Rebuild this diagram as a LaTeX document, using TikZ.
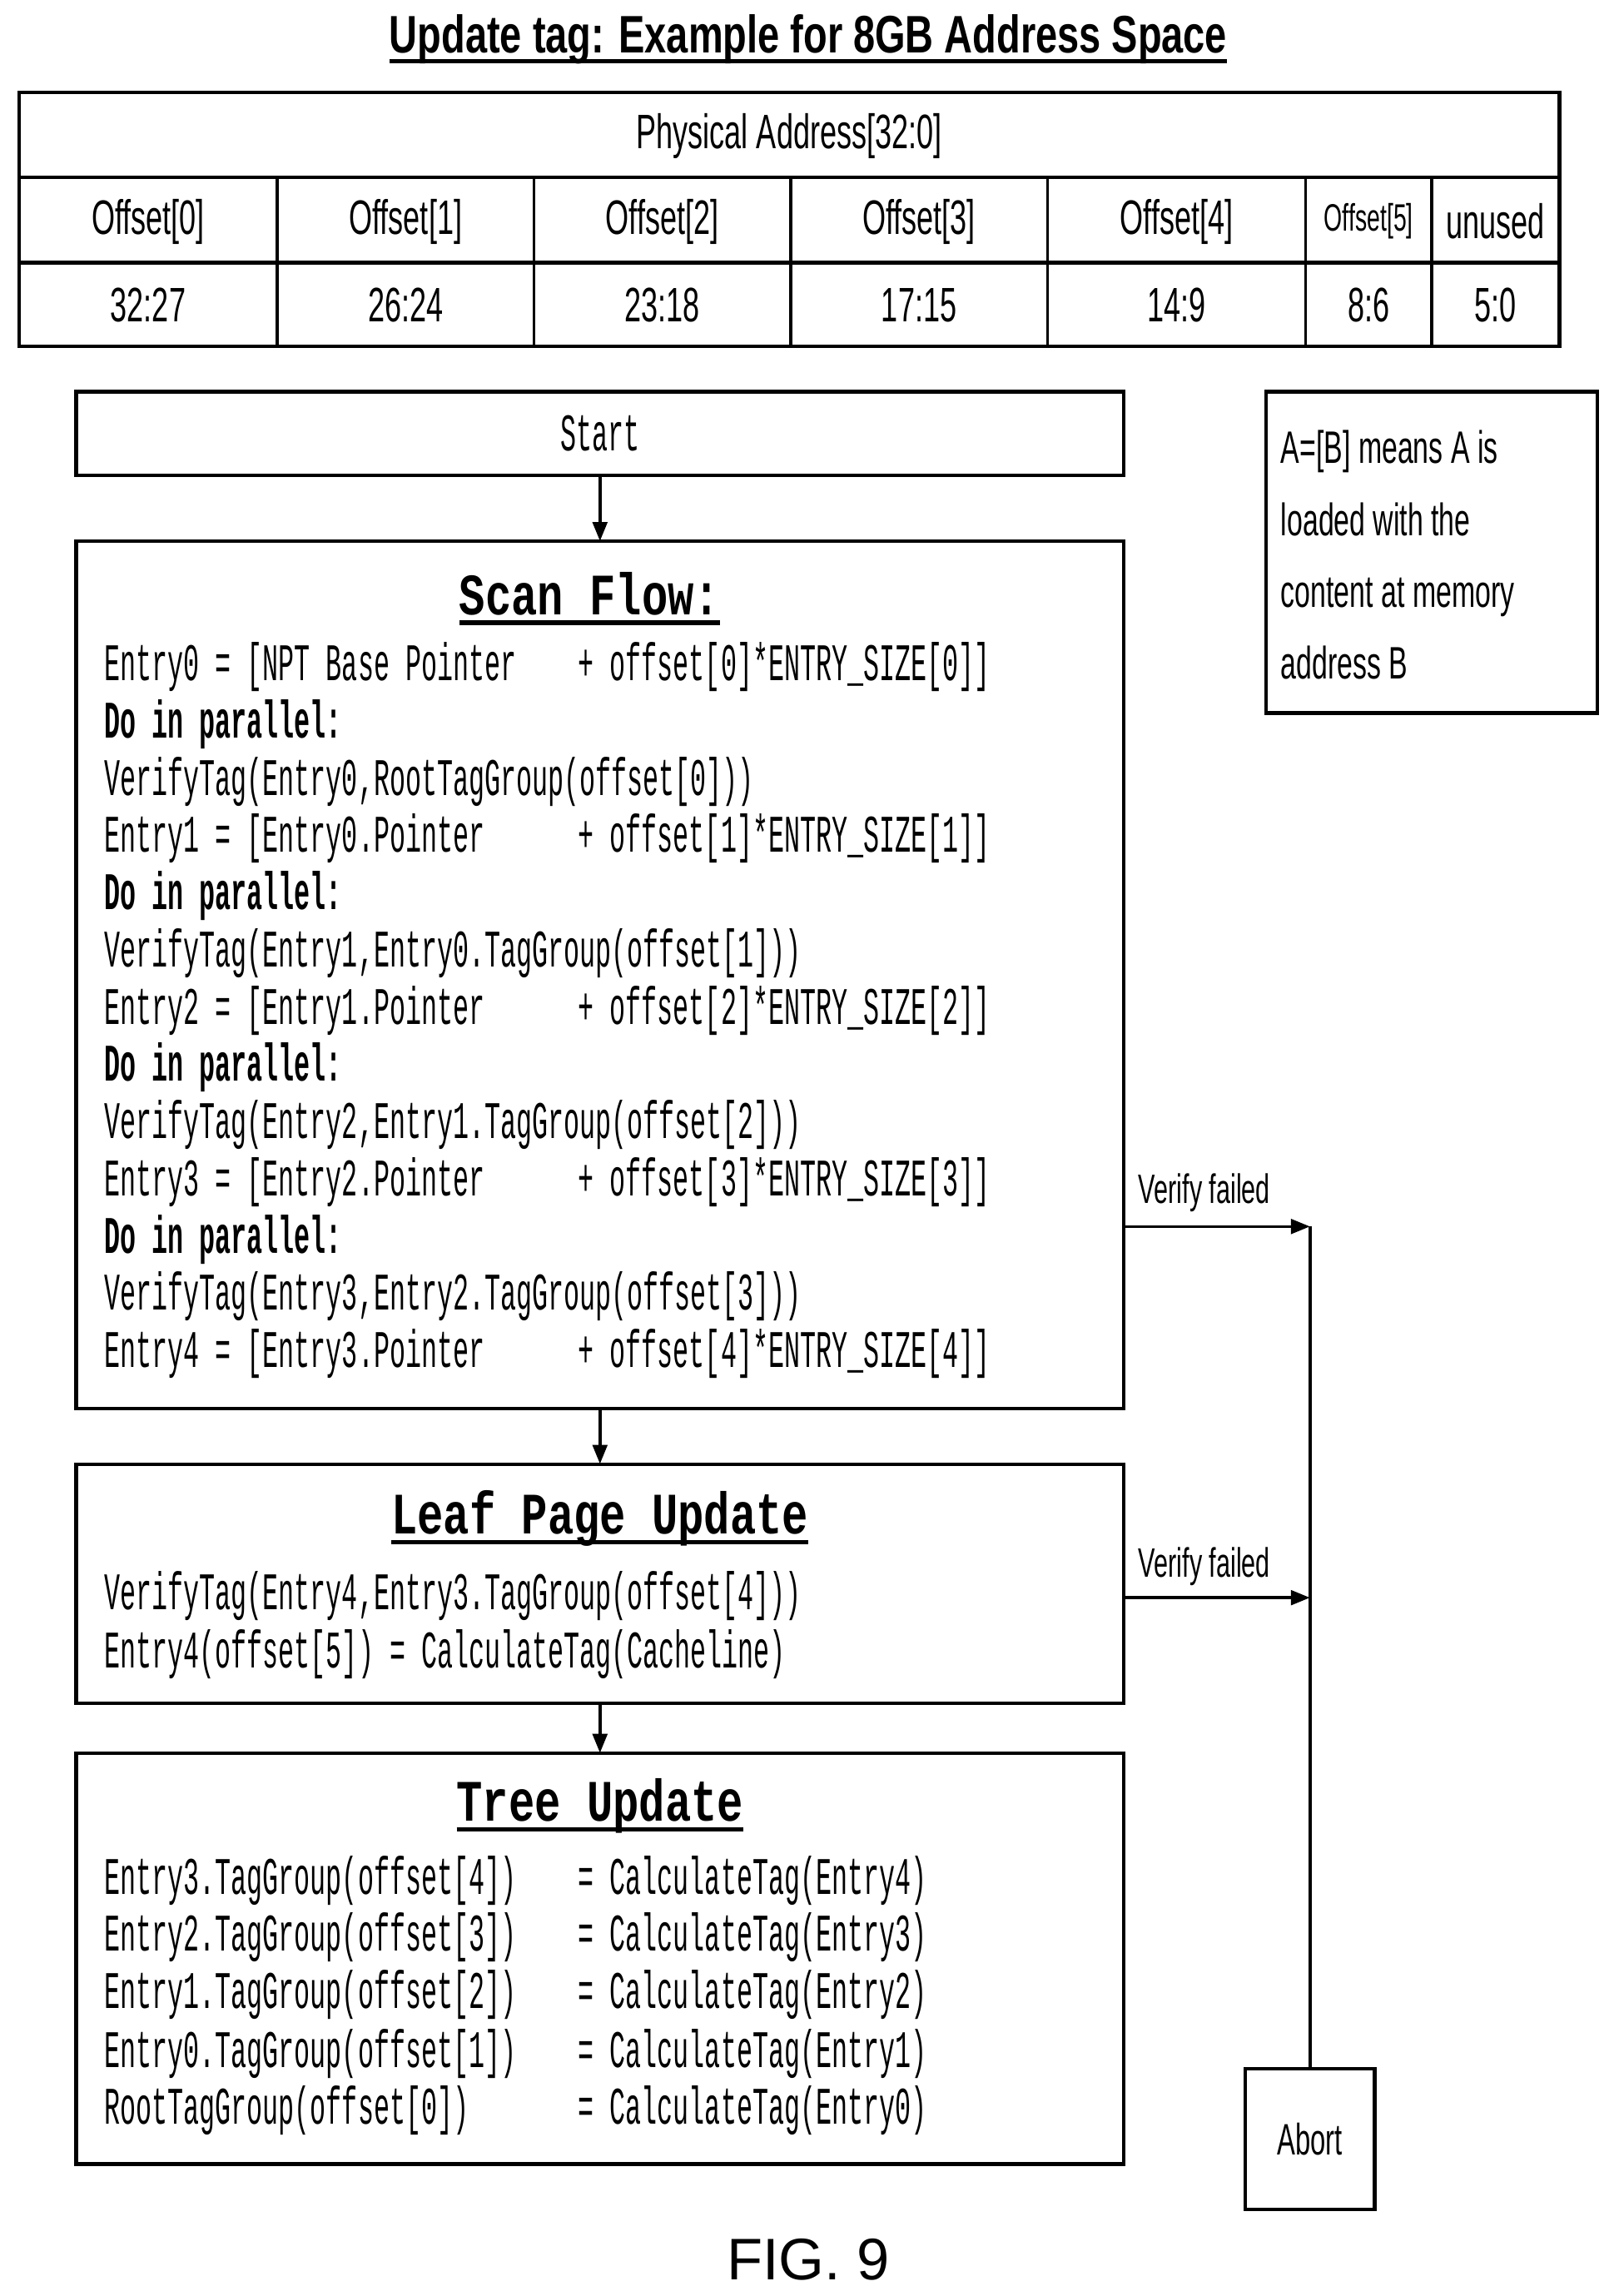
\documentclass[tikz,border=0pt]{standalone}
\usepackage{fontspec}
\setmainfont{Liberation Sans}
\newfontfamily\narrowsans[FakeStretch=0.62]{Liberation Sans}
\newfontfamily\titlesans[FakeStretch=0.74]{Liberation Sans}
\newfontfamily\narrowmono[FakeStretch=0.5]{Liberation Mono}
\newfontfamily\headmono[FakeStretch=0.74]{Liberation Mono}
\usetikzlibrary{positioning,arrows.meta,calc}
\tikzset{
  box/.style={draw,line width=2.5pt},
  cell/.style={font=\narrowsans\fontsize{33}{33}\selectfont},
  code/.style={anchor=base west,inner sep=0pt,font=\narrowmono\fontsize{36}{36}\selectfont},
  codehead/.style={inner sep=0pt,font=\headmono\bfseries\fontsize{40}{40}\selectfont},
  note/.style={anchor=base west,inner sep=0pt,font=\narrowsans\fontsize{31}{31}\selectfont},
  flow/.style={-{Triangle[length=13pt,width=10pt]},line width=2pt}
}
\newcommand{\codeline}[3]{%
  \node[code] at (71,-#1-10) {#2};
  \node[code] at (394,-#1-10) {#3};}
\newcommand{\thickul}[1]{\setbox0\hbox{#1}\rlap{\vrule height -4pt depth 7pt width \wd0}\box0}
\begin{document}
\begin{tikzpicture}[x=1pt,y=1pt]
  \useasboundingbox (0,0) rectangle (1100,-1565);

  % title
  \node (title) at (551,-27) {\titlesans\bfseries\fontsize{36}{36}\selectfont\thickul{Update tag: Example for 8GB Address Space}};

  % address table
  \draw[box] (13,-63) rectangle (1063,-236);
  \draw[box] (13,-121) -- (1063,-121);
  \draw[box] (13,-179) -- (1063,-179);
  \foreach \x in {189,364,539,714,890,976}
    \draw[line width=2pt] (\x,-121) -- (\x,-236);
  \node[cell] (physaddr) at (538,-93) {Physical Address[32:0]};
  \foreach \a/\b/\n/\r in {13/189/Offset[0]/32:27, 189/364/Offset[1]/26:24, 364/539/Offset[2]/23:18,
      539/714/Offset[3]/17:15, 714/890/Offset[4]/14:9, 976/1063/unused/5:0}
  {
    \node[cell] at ({(\a+\b)/2},-151) {\n};
    \node[cell] at ({(\a+\b)/2},-208) {\r};
  }
  \node[cell,font=\narrowsans\fontsize{26}{26}\selectfont] at (933,-151) {Offset[5]};
  \node[cell] at (933,-208) {8:6};

  % start
  \draw[box] (52,-267) rectangle (766,-324);
  \node (start) at (409,-295.5) [minimum width=714pt,minimum height=57pt,font=\narrowmono\fontsize{36}{36}\selectfont] {Start};

  % note
  \draw[box] (863,-267) rectangle (1089,-486);
  \node[note] at (873,-316) {A=[B] means A is};
  \node[note] at (873,-365) {loaded with the};
  \node[note] at (873,-414) {content at memory};
  \node[note] at (873,-463) {address B};

  % scan flow
  \draw[box] (52,-369) rectangle (766,-960);
  \node (scan) at (409,-664.5) [minimum width=714pt,minimum height=591pt] {};
  \node[codehead] at (402,-408) {\thickul{Scan Flow:}};
  \codeline{454}{Entry0 = [NPT Base Pointer}{+ offset[0]*ENTRY\_SIZE[0]]}
  \node[code] at (71,-503) {\bfseries Do in parallel:};
  \node[code] at (71,-542) {VerifyTag(Entry0,RootTagGroup(offset[0]))};
  \codeline{571}{Entry1 = [Entry0.Pointer}{+ offset[1]*ENTRY\_SIZE[1]]}
  \node[code] at (71,-620) {\bfseries Do in parallel:};
  \node[code] at (71,-659) {VerifyTag(Entry1,Entry0.TagGroup(offset[1]))};
  \codeline{688}{Entry2 = [Entry1.Pointer}{+ offset[2]*ENTRY\_SIZE[2]]}
  \node[code] at (71,-737) {\bfseries Do in parallel:};
  \node[code] at (71,-776) {VerifyTag(Entry2,Entry1.TagGroup(offset[2]))};
  \codeline{805}{Entry3 = [Entry2.Pointer}{+ offset[3]*ENTRY\_SIZE[3]]}
  \node[code] at (71,-854) {\bfseries Do in parallel:};
  \node[code] at (71,-893) {VerifyTag(Entry3,Entry2.TagGroup(offset[3]))};
  \codeline{922}{Entry4 = [Entry3.Pointer}{+ offset[4]*ENTRY\_SIZE[4]]}

  % leaf page update
  \draw[box] (52,-998) rectangle (766,-1161);
  \node (leaf) at (409,-1079.5) [minimum width=714pt,minimum height=163pt] {};
  \node[codehead] at (409,-1035) {\thickul{Leaf Page Update}};
  \node[code] at (71,-1097) {VerifyTag(Entry4,Entry3.TagGroup(offset[4]))};
  \node[code] at (71,-1137) {Entry4(offset[5]) = CalculateTag(Cacheline)};

  % tree update
  \draw[box] (52,-1195) rectangle (766,-1475);
  \node (tree) at (409,-1335) [minimum width=714pt,minimum height=280pt] {};
  \node[codehead] at (409,-1231) {\thickul{Tree Update}};
  \codeline{1281}{Entry3.TagGroup(offset[4])}{= CalculateTag(Entry4)}
  \codeline{1320}{Entry2.TagGroup(offset[3])}{= CalculateTag(Entry3)}
  \codeline{1359}{Entry1.TagGroup(offset[2])}{= CalculateTag(Entry2)}
  \codeline{1399}{Entry0.TagGroup(offset[1])}{= CalculateTag(Entry1)}
  \codeline{1438}{RootTagGroup(offset[0])}{= CalculateTag(Entry0)}

  % abort
  \draw[box] (849,-1410) rectangle (937,-1506);
  \node (abort) at (893,-1458) [minimum width=88pt,minimum height=96pt,font=\narrowsans\fontsize{30}{30}\selectfont] {Abort};

  % connectors
  \coordinate (fail1) at (893,-836);
  \coordinate (fail2) at (893,-1089);
  \draw[flow] (start) -- (scan);
  \draw[flow] (scan) -- (leaf);
  \draw[flow] (leaf) -- (tree);
  \draw[line width=2pt] (abort.north) -- (fail1);
  \draw[flow] (scan.east |- fail1) -- (fail1);
  \draw[flow] (leaf.east |- fail2) -- (fail2);
  \node[font=\narrowsans\fontsize{28}{28}\selectfont] at (821,-813) {Verify failed};
  \node[font=\narrowsans\fontsize{28}{28}\selectfont] at (821,-1068) {Verify failed};

  \node (fig) at (551,-1540) {\fontsize{40}{40}\selectfont FIG. 9};
\end{tikzpicture}
\end{document}
